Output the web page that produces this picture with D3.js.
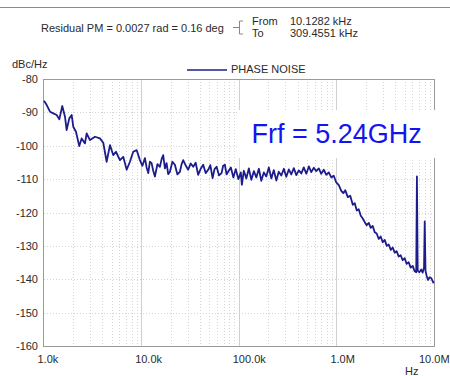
<!DOCTYPE html>
<html>
<head>
  <meta charset="utf-8" />
  <title>Phase noise</title>
  <script type="text/javascript" src="https://cdn.jsdelivr.net/npm/d3@7"></script>
  <style type="text/css">
  body {
    margin: 0;
    background: #fff;
  }
  text {
    font-family: "Liberation Sans", Arial, sans-serif;
    font-size: 11px;
    fill: #2a2a2a;
  }
  .grid line {
    stroke: #d4d4d4;
    stroke-width: 1px;
    stroke-dasharray: 1,2;
    shape-rendering: crispedges;
  }
  .grid line.major {
    stroke: #d0d0d0;
    stroke-dasharray: none;
  }
  .frame {
    fill: none;
    stroke: #9a9a9a;
    stroke-width: 1px;
    shape-rendering: crispedges;
  }
  .trace {
    fill: none;
    stroke: #1c1c8c;
    stroke-width: 1.8px;
    stroke-linejoin: round;
  }
  </style>
</head>
<body>
  <script type="text/javascript">
    var freq = [
      1012, 1079, 1166, 1260, 1365, 1452, 1557, 1660, 1726, 1837, 1944, 2018,
      2151, 2324, 2460, 2659, 2767, 2992, 3365, 3785, 4095, 4434, 4797, 5177,
      5521, 6067, 6561, 7112, 7679, 8299, 8992, 9726, 10310, 10940, 11380, 11830,
      12300, 12800, 13300, 13840, 14690, 15570, 16220, 16830, 17530, 18230, 18930, 19720,
      20900, 22180, 23530, 24950, 26000, 26980, 28740, 30340, 32210, 34120, 36220, 38370,
      40740, 43250, 45820, 48640, 51170, 53950, 56490, 59290, 62810, 66680, 69180, 72110,
      74990, 77840, 83000, 88100, 93300, 99100, 105000, 107600, 112700, 119600, 126800, 134600,
      142900, 151400, 160700, 170200, 180700, 191400, 203200, 215800, 228600, 242700, 257000, 272900,
      289700, 306900, 325800, 345100, 366400, 389000, 412100, 437500, 463400, 492000, 522400, 553400,
      587500, 622300, 660700, 699800, 743000, 788900, 835700, 887100, 939700, 997700, 1059000, 1122000,
      1178000, 1233000, 1309000, 1387000, 1472000, 1542000, 1618000, 1694000, 1778000, 1862000, 1954000, 2046000,
      2148000, 2249000, 2355000, 2472000, 2588000, 2716000, 2844000, 2985000, 3126000, 3281000, 3436000, 3606000,
      3776000, 3954000, 4150000, 4345000, 4560000, 4775000, 5012000, 5248000, 5508000, 5768000, 6053000, 6339000,
      6577000, 6683000, 6808000, 7063000, 7396000, 7656000, 7907000, 8035000, 8185000, 8414000, 8683000, 9036000,
      9397000, 9705000, 9931000
    ]
    var noise = [
      -86.5, -87.8, -89.8, -90.3, -90.8, -92.1, -88.1, -91.3, -95.3, -91.8, -90.8, -94.3,
      -95.8, -100.1, -97.8, -99.3, -96.3, -98.3, -97.3, -97.8, -99.1, -104.8, -99.8, -102.8,
      -101.8, -104.3, -103.3, -107.2, -104.8, -101.8, -101.3, -104.3, -106.0, -103.7, -106.5, -108.2,
      -104.8, -105.2, -107.5, -109.2, -105.5, -106.3, -104.0, -102.8, -106.8, -105.2, -108.5, -107.8,
      -104.8, -105.7, -108.6, -107.8, -105.5, -104.3, -106.0, -107.2, -105.3, -106.3, -105.1, -108.7,
      -106.9, -105.7, -108.2, -107.2, -105.8, -109.7, -107.0, -106.3, -108.9, -108.2, -106.0, -105.7,
      -108.6, -107.8, -106.5, -109.5, -107.0, -110.0, -108.0, -111.7, -107.5, -109.8, -106.8, -110.2,
      -107.6, -109.5, -106.9, -110.5, -108.0, -109.2, -106.5, -109.8, -107.3, -110.4, -107.8, -108.9,
      -106.9, -109.3, -107.1, -108.6, -106.7, -108.8, -107.4, -108.3, -106.5, -108.4, -106.2, -107.9,
      -106.6, -107.6, -106.8, -108.4, -107.2, -108.7, -108.0, -109.5, -109.0, -111.0, -111.8, -113.5,
      -114.2, -113.3, -115.4, -115.0, -117.7, -117.2, -119.4, -119.0, -121.0, -121.8, -122.9, -123.8,
      -123.1, -124.6, -124.0, -125.9, -126.3, -127.9, -127.2, -128.9, -128.2, -130.0, -129.6, -131.2,
      -130.5, -132.0, -131.6, -133.2, -132.8, -134.3, -133.7, -135.4, -134.9, -136.5, -136.0, -137.6,
      -137.9, -109.2, -137.4, -137.9, -137.1, -138.0, -136.5, -122.7, -137.5, -139.0, -140.2, -139.4,
      -139.7, -140.6, -141.2
    ]
    var xTicks = [1e3, 1e4, 1e5, 1e6, 1e7]
    var xTickLabels = ['1.0k', '10.0k', '100.0k', '1.0M', '10.0M']
    var yTicks = [-160, -150, -140, -130, -120, -110, -100, -90, -80]

    var w = 450,
        h = 376,
        x = d3.scaleLog().domain([1e3, 1e7]).range([43.5, 434]),
        y = d3.scaleLinear().domain([-160, -80]).range([346, 79])

    var svg = d3.select(document.body)
      .append('svg')
      .attr('width', w)
      .attr('height', h)

    // header
    svg.append('line')
      .attr('x1', 0).attr('x2', w)
      .attr('y1', 7.5).attr('y2', 7.5)
      .attr('stroke', '#8a8a8a')

    svg.append('text').attr('x', 41).attr('y', 31.5)
      .text('Residual PM = 0.0027 rad = 0.16 deg')

    svg.append('path')
      .attr('d', 'M233,27.5H239.5M243,21V21H239.5V34H243')
      .attr('fill', 'none')
      .attr('stroke', '#888')

    svg.append('text').attr('x', 252).attr('y', 25).text('From')
    svg.append('text').attr('x', 290).attr('y', 25).text('10.1282 kHz')
    svg.append('text').attr('x', 252).attr('y', 36.5).text('To')
    svg.append('text').attr('x', 290).attr('y', 36.5).text('309.4551 kHz')

    svg.append('text').attr('x', 12).attr('y', 67.5).text('dBc/Hz')

    svg.append('line')
      .attr('x1', 187).attr('x2', 227)
      .attr('y1', 70).attr('y2', 70)
      .attr('stroke', '#1c1c8c')
      .attr('stroke-width', 1.5)
    svg.append('text').attr('x', 231).attr('y', 72.5).text('PHASE NOISE')

    // grid
    var minor = []
    xTicks.slice(0, -1).forEach(function(d) {
      for (var k = 2; k < 10; k++) minor.push(d * k)
    })

    var grid = svg.append('g').attr('class', 'grid')

    grid.selectAll('line.minor')
      .data(minor)
    .enter().append('line')
      .attr('class', 'minor')
      .attr('x1', function(d) { return Math.round(x(d)) + 0.5 })
      .attr('x2', function(d) { return Math.round(x(d)) + 0.5 })
      .attr('y1', y(-80))
      .attr('y2', y(-160))

    grid.selectAll('line.major')
      .data(xTicks.slice(1, -1))
    .enter().append('line')
      .attr('class', 'major')
      .attr('x1', function(d) { return Math.round(x(d)) + 0.5 })
      .attr('x2', function(d) { return Math.round(x(d)) + 0.5 })
      .attr('y1', y(-80))
      .attr('y2', y(-160))

    grid.selectAll('line.h')
      .data(yTicks.slice(1, -1))
    .enter().append('line')
      .attr('class', 'h')
      .attr('x1', x(1e3))
      .attr('x2', x(1e7))
      .attr('y1', function(d) { return Math.round(y(d)) + 0.5 })
      .attr('y2', function(d) { return Math.round(y(d)) + 0.5 })

    svg.append('rect')
      .attr('class', 'frame')
      .attr('x', 43.5)
      .attr('y', 79.5)
      .attr('width', 391)
      .attr('height', 267)

    // axes labels
    svg.selectAll('text.ylab')
      .data(yTicks)
    .enter().append('text')
      .attr('class', 'ylab')
      .attr('x', 38)
      .attr('y', function(d) { return y(d) + 4 })
      .attr('text-anchor', 'end')
      .text(function(d) { return d })

    svg.selectAll('text.xlab')
      .data(xTicks)
    .enter().append('text')
      .attr('class', 'xlab')
      .attr('x', function(d, i) { return Math.min(x(d) - 6, w - 31) })
      .attr('y', 363)
      .text(function(d, i) { return xTickLabels[i] })

    svg.append('text').attr('x', 405).attr('y', 375).text('Hz')

    // trace
    var line = d3.line()
      .x(function(d) { return x(d) })
      .y(function(d, i) { return y(noise[i]) })

    svg.append('path')
      .datum(freq)
      .attr('class', 'trace')
      .attr('d', line)

    // carrier annotation
    svg.append('rect')
      .attr('x', 237)
      .attr('y', 110)
      .attr('width', 205)
      .attr('height', 48)
      .attr('fill', '#fff')

    svg.append('text')
      .attr('x', 251.5)
      .attr('y', 142.5)
      .style('font-size', '27px')
      .style('fill', '#1414ee')
      .text('Frf = 5.24GHz')
  </script>
</body>
</html>
